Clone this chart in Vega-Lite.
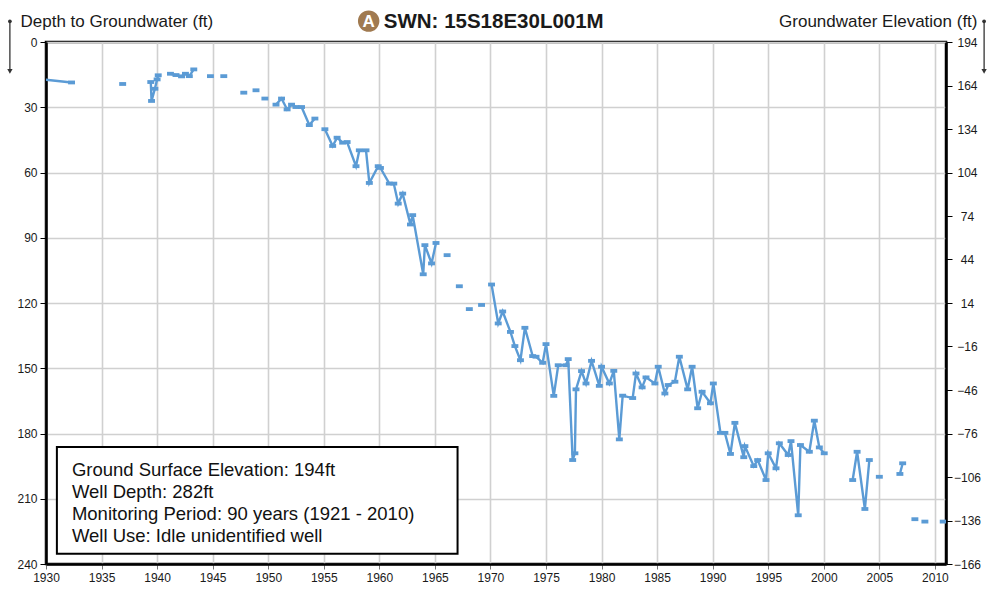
{
  "$schema": "https://vega.github.io/schema/vega-lite/v6.json",
  "width": 900,
  "height": 522,
  "autosize": {"type": "none"},
  "padding": {"left": 46, "top": 42, "right": 44, "bottom": 26},
  "background": "white",
  "config": {
    "font": "Liberation Sans",
    "view": {"stroke": "black", "strokeWidth": 2.5},
    "axis": {
      "labelFont": "Liberation Sans",
      "titleFont": "Liberation Sans",
      "labelColor": "#1a1a1a",
      "titleColor": "#1a1a1a",
      "labelFontSize": 12,
      "titleFontSize": 17,
      "titleFontWeight": "normal",
      "labelFlush": false,
      "labelOverlap": false,
      "domainColor": "black",
      "domainWidth": 2.5
    }
  },
  "datasets": {
    "wl": [
      {"year": 1929.0, "depth": 16.8, "seg": 0},
      {"year": 1932.3, "depth": 18.6, "seg": 0},
      {"year": 1936.9, "depth": 19.3, "seg": 1},
      {"year": 1939.43, "depth": 18.4, "seg": 2},
      {"year": 1939.5, "depth": 27.1, "seg": 2},
      {"year": 1939.8, "depth": 21.5, "seg": 2},
      {"year": 1940.0, "depth": 17.2, "seg": 2},
      {"year": 1940.1, "depth": 15.3, "seg": 2},
      {"year": 1941.2, "depth": 14.6, "seg": 3},
      {"year": 1941.7, "depth": 15.2, "seg": 3},
      {"year": 1942.2, "depth": 15.8, "seg": 3},
      {"year": 1942.55, "depth": 14.6, "seg": 3},
      {"year": 1942.9, "depth": 15.7, "seg": 3},
      {"year": 1943.3, "depth": 12.6, "seg": 3},
      {"year": 1944.8, "depth": 15.7, "seg": 4},
      {"year": 1946.0, "depth": 15.7, "seg": 5},
      {"year": 1947.8, "depth": 23.3, "seg": 6},
      {"year": 1948.9, "depth": 22.2, "seg": 7},
      {"year": 1949.7, "depth": 26.0, "seg": 8},
      {"year": 1950.7, "depth": 28.8, "seg": 9},
      {"year": 1951.2, "depth": 26.0, "seg": 9},
      {"year": 1951.7, "depth": 31.0, "seg": 9},
      {"year": 1952.1, "depth": 28.8, "seg": 9},
      {"year": 1952.5, "depth": 29.9, "seg": 9},
      {"year": 1953.0, "depth": 29.9, "seg": 9},
      {"year": 1953.7, "depth": 38.2, "seg": 9},
      {"year": 1954.2, "depth": 35.2, "seg": 9},
      {"year": 1955.1, "depth": 40.1, "seg": 10},
      {"year": 1955.8, "depth": 47.8, "seg": 10},
      {"year": 1956.2, "depth": 44.0, "seg": 10},
      {"year": 1956.7, "depth": 46.3, "seg": 10},
      {"year": 1957.1, "depth": 46.0, "seg": 10},
      {"year": 1957.9, "depth": 57.1, "seg": 10},
      {"year": 1958.2, "depth": 49.8, "seg": 10},
      {"year": 1958.8, "depth": 49.8, "seg": 10},
      {"year": 1959.1, "depth": 64.8, "seg": 10},
      {"year": 1959.9, "depth": 57.1, "seg": 10},
      {"year": 1960.1, "depth": 57.9, "seg": 10},
      {"year": 1960.9, "depth": 65.1, "seg": 10},
      {"year": 1961.3, "depth": 65.1, "seg": 10},
      {"year": 1961.7, "depth": 74.3, "seg": 10},
      {"year": 1962.1, "depth": 69.7, "seg": 10},
      {"year": 1962.8, "depth": 83.9, "seg": 10},
      {"year": 1963.0, "depth": 79.6, "seg": 10},
      {"year": 1963.95, "depth": 106.8, "seg": 10},
      {"year": 1964.1, "depth": 93.4, "seg": 10},
      {"year": 1964.7, "depth": 101.8, "seg": 10},
      {"year": 1965.1, "depth": 92.4, "seg": 10},
      {"year": 1966.1, "depth": 98.0, "seg": 11},
      {"year": 1967.2, "depth": 112.3, "seg": 12},
      {"year": 1968.1, "depth": 122.8, "seg": 13},
      {"year": 1969.2, "depth": 120.9, "seg": 14},
      {"year": 1970.1, "depth": 111.5, "seg": 15},
      {"year": 1970.7, "depth": 129.4, "seg": 15},
      {"year": 1971.1, "depth": 123.9, "seg": 15},
      {"year": 1971.8, "depth": 133.3, "seg": 15},
      {"year": 1972.2, "depth": 139.8, "seg": 15},
      {"year": 1972.7, "depth": 146.3, "seg": 15},
      {"year": 1973.1, "depth": 131.4, "seg": 15},
      {"year": 1973.8, "depth": 144.4, "seg": 15},
      {"year": 1974.1, "depth": 144.7, "seg": 15},
      {"year": 1974.7, "depth": 147.5, "seg": 15},
      {"year": 1975.0, "depth": 138.9, "seg": 15},
      {"year": 1975.7, "depth": 162.7, "seg": 15},
      {"year": 1976.1, "depth": 148.6, "seg": 15},
      {"year": 1976.8, "depth": 148.6, "seg": 15},
      {"year": 1977.0, "depth": 145.8, "seg": 15},
      {"year": 1977.4, "depth": 192.2, "seg": 15},
      {"year": 1977.6, "depth": 189.1, "seg": 15},
      {"year": 1977.7, "depth": 159.7, "seg": 15},
      {"year": 1978.2, "depth": 151.3, "seg": 15},
      {"year": 1978.6, "depth": 157.0, "seg": 15},
      {"year": 1979.1, "depth": 146.6, "seg": 15},
      {"year": 1979.8, "depth": 158.1, "seg": 15},
      {"year": 1980.0, "depth": 149.3, "seg": 15},
      {"year": 1980.7, "depth": 157.0, "seg": 15},
      {"year": 1981.1, "depth": 151.2, "seg": 15},
      {"year": 1981.6, "depth": 182.7, "seg": 15},
      {"year": 1981.9, "depth": 162.6, "seg": 15},
      {"year": 1982.8, "depth": 163.7, "seg": 15},
      {"year": 1983.1, "depth": 152.4, "seg": 15},
      {"year": 1983.65, "depth": 158.8, "seg": 15},
      {"year": 1984.0, "depth": 154.2, "seg": 15},
      {"year": 1984.8, "depth": 157.0, "seg": 15},
      {"year": 1985.1, "depth": 149.3, "seg": 15},
      {"year": 1985.7, "depth": 161.6, "seg": 15},
      {"year": 1986.0, "depth": 157.7, "seg": 15},
      {"year": 1986.6, "depth": 156.2, "seg": 15},
      {"year": 1987.0, "depth": 144.7, "seg": 15},
      {"year": 1987.75, "depth": 159.7, "seg": 15},
      {"year": 1988.15, "depth": 149.3, "seg": 15},
      {"year": 1988.65, "depth": 168.4, "seg": 15},
      {"year": 1989.05, "depth": 160.8, "seg": 15},
      {"year": 1989.8, "depth": 166.1, "seg": 15},
      {"year": 1990.06, "depth": 157.0, "seg": 15},
      {"year": 1990.7, "depth": 179.7, "seg": 15},
      {"year": 1991.1, "depth": 179.7, "seg": 15},
      {"year": 1991.6, "depth": 189.4, "seg": 15},
      {"year": 1992.0, "depth": 175.1, "seg": 15},
      {"year": 1992.8, "depth": 190.9, "seg": 15},
      {"year": 1992.9, "depth": 185.8, "seg": 15},
      {"year": 1993.7, "depth": 195.0, "seg": 15},
      {"year": 1994.05, "depth": 192.2, "seg": 15},
      {"year": 1994.8, "depth": 201.4, "seg": 15},
      {"year": 1995.0, "depth": 189.1, "seg": 15},
      {"year": 1995.7, "depth": 196.0, "seg": 15},
      {"year": 1996.0, "depth": 184.5, "seg": 15},
      {"year": 1996.8, "depth": 189.9, "seg": 15},
      {"year": 1997.05, "depth": 183.5, "seg": 15},
      {"year": 1997.7, "depth": 217.6, "seg": 15},
      {"year": 1997.9, "depth": 185.3, "seg": 15},
      {"year": 1998.7, "depth": 188.4, "seg": 15},
      {"year": 1999.15, "depth": 174.1, "seg": 15},
      {"year": 1999.6, "depth": 186.4, "seg": 15},
      {"year": 2000.04, "depth": 189.1, "seg": 15},
      {"year": 2002.6, "depth": 201.4, "seg": 16},
      {"year": 2003.0, "depth": 188.4, "seg": 16},
      {"year": 2003.7, "depth": 214.7, "seg": 16},
      {"year": 2004.1, "depth": 192.2, "seg": 16},
      {"year": 2005.0, "depth": 199.9, "seg": 17},
      {"year": 2006.85, "depth": 198.6, "seg": 18},
      {"year": 2007.1, "depth": 193.7, "seg": 18},
      {"year": 2008.2, "depth": 219.4, "seg": 19},
      {"year": 2009.1, "depth": 220.5, "seg": 20},
      {"year": 2010.75, "depth": 220.5, "seg": 21}
    ]
  },
  "layer": [
    {
      "layer": [
        {
          "data": {"name": "wl"},
          "mark": {"type": "line", "color": "#5b9bd5", "strokeWidth": 2.4, "clip": true},
          "encoding": {
            "x": {
              "field": "year", "type": "quantitative",
              "scale": {"domain": [1930, 2011], "nice": false, "zero": false},
              "axis": {
                "values": [1930, 1935, 1940, 1945, 1950, 1955, 1960, 1965, 1970, 1975, 1980, 1985, 1990, 1995, 2000, 2005, 2010],
                "format": "d", "title": null, "grid": true,
                "gridColor": "#d0d0d0", "gridWidth": 1.6,
                "tickColor": "#777", "tickSize": 5, "labelPadding": 3
              }
            },
            "y": {
              "field": "depth", "type": "quantitative",
              "scale": {"domain": [0, 240], "reverse": true, "nice": false, "zero": false},
              "axis": {
                "orient": "left",
                "values": [0, 30, 60, 90, 120, 150, 180, 210, 240],
                "grid": true, "gridColor": "#d0d0d0", "gridWidth": 1.6,
                "tickColor": "black", "tickSize": 6, "labelPadding": 3,
                "title": "Depth to Groundwater (ft)",
                "titleAngle": 0, "titleAlign": "left", "titleBaseline": "middle",
                "titleX": -26, "titleY": -21
              }
            },
            "detail": {"field": "seg"}
          }
        },
        {
          "data": {"name": "wl"},
          "mark": {"type": "point", "shape": "M-1,-0.55H1V0.55H-1Z", "filled": true, "opacity": 1, "color": "#5b9bd5", "size": 48, "clip": true},
          "encoding": {
            "x": {"field": "year", "type": "quantitative"},
            "y": {"field": "depth", "type": "quantitative"}
          }
        },
        {
          "data": {"values": [{}]},
          "mark": {"type": "rect", "fill": "white", "stroke": "black", "strokeWidth": 2},
          "encoding": {
            "x": {"datum": 1930.98}, "x2": {"datum": 1967.04},
            "y": {"datum": 186.2}, "y2": {"datum": 235.3}
          }
        },
        {
          "data": {"values": [{}]},
          "mark": {"type": "text", "align": "left", "baseline": "middle", "font": "Liberation Sans", "fontSize": 18.5, "lineHeight": 22, "color": "#111"},
          "encoding": {
            "x": {"datum": 1932.33}, "y": {"datum": 196.6},
            "text": {"value": ["Ground Surface Elevation: 194ft", "Well Depth: 282ft", "Monitoring Period: 90 years (1921 - 2010)", "Well Use: Idle unidentified well"]}
          }
        },
        {
          "data": {"values": [{}]},
          "mark": {"type": "point", "shape": "circle", "filled": true, "color": "#a07a50", "opacity": 1, "size": 460},
          "encoding": {"x": {"datum": 1959.04}, "y": {"datum": -9.6}}
        },
        {
          "data": {"values": [{}]},
          "mark": {"type": "text", "text": "A", "align": "center", "baseline": "middle", "font": "Liberation Sans", "fontSize": 17, "fontWeight": "bold", "color": "white", "dy": 1},
          "encoding": {"x": {"datum": 1959.04}, "y": {"datum": -9.6}}
        },
        {
          "data": {"values": [{}]},
          "mark": {"type": "text", "text": "SWN: 15S18E30L001M", "align": "left", "baseline": "middle", "font": "Liberation Sans", "fontSize": 20.5, "fontWeight": "bold", "color": "#1a1a1a", "dy": 1},
          "encoding": {"x": {"datum": 1960.4}, "y": {"datum": -9.6}}
        },
        {
          "data": {"values": [{}]},
          "mark": {"type": "rule", "color": "#333", "strokeWidth": 1.3},
          "encoding": {"x": {"datum": 1926.75}, "y": {"datum": -9.5}, "y2": {"datum": 12.5}}
        },
        {
          "data": {"values": [{}]},
          "mark": {"type": "rule", "color": "#333", "strokeWidth": 1.3},
          "encoding": {"x": {"datum": 2014.43}, "y": {"datum": -9.5}, "y2": {"datum": 12.5}}
        },
        {
          "data": {"values": [{}]},
          "mark": {"type": "point", "shape": "circle", "filled": true, "color": "#333", "opacity": 1, "size": 14},
          "encoding": {"x": {"datum": 1926.75}, "y": {"datum": -9.5}}
        },
        {
          "data": {"values": [{}]},
          "mark": {"type": "point", "shape": "circle", "filled": true, "color": "#333", "opacity": 1, "size": 14},
          "encoding": {"x": {"datum": 2014.43}, "y": {"datum": -9.5}}
        },
        {
          "data": {"values": [{}]},
          "mark": {"type": "point", "shape": "triangle-down", "filled": true, "color": "#333", "opacity": 1, "size": 28},
          "encoding": {"x": {"datum": 1926.75}, "y": {"datum": 13.5}}
        },
        {
          "data": {"values": [{}]},
          "mark": {"type": "point", "shape": "triangle-down", "filled": true, "color": "#333", "opacity": 1, "size": 28},
          "encoding": {"x": {"datum": 2014.43}, "y": {"datum": 13.5}}
        }
      ]
    },
    {
      "data": {"values": [{"elev": 194}, {"elev": -166}]},
      "mark": {"type": "rule", "opacity": 0},
      "encoding": {
        "y": {
          "field": "elev", "type": "quantitative",
          "scale": {"domain": [-166, 194], "nice": false, "zero": false},
          "axis": {
            "orient": "right",
            "values": [194, 164, 134, 104, 74, 44, 14, -16, -46, -76, -106, -136, -166],
            "grid": false, "tickColor": "black", "tickSize": 6,
            "labelAlign": "center", "labelPadding": 15,
            "title": "Groundwater Elevation (ft)",
            "titleAngle": 0, "titleAlign": "right", "titleBaseline": "middle",
            "titleX": 31, "titleY": -21
          }
        }
      }
    }
  ],
  "resolve": {"scale": {"y": "independent"}}
}
